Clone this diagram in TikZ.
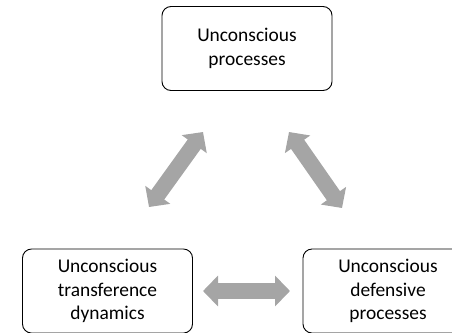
\documentclass[tikz,border=0pt]{standalone}
\usepackage{fontspec}
\setmainfont{Carlito}
\usetikzlibrary{arrows.meta}
\definecolor{arrowgray}{HTML}{A5A5A5}
\tikzset{
  procbox/.style={draw=black, line width=0.9bp, rounded corners=9bp, fill=white,
    minimum width=170bp, minimum height=84bp, align=center, inner sep=0pt,
    font=\fontsize{19.5}{23.5}\selectfont},
  linkarrow/.style={draw=arrowgray, line width=16bp,
    {Triangle[width=30bp,length=15bp]}-{Triangle[width=30bp,length=15bp]}}
}
\begin{document}
\begin{tikzpicture}[x=1bp, y=-1bp]
  \useasboundingbox (0,0) rectangle (452,332);
  \clip (0,0) rectangle (452,332);
  % process boxes
  \node[procbox] (up) at (247,48.5) {Unconscious\\processes};
  \node[procbox] (td) at (107.5,291) {Unconscious\\transference\\dynamics};
  \node[procbox] (dp) at (388,291) {Unconscious\\defensive\\processes};
  % ends of the two-way arrows
  \coordinate (a1) at (203,132);
  \coordinate (a2) at (149,207);
  \coordinate (b1) at (289,132);
  \coordinate (b2) at (342,208);
  \coordinate (c1) at (203,291);
  \coordinate (c2) at (290,291);
  \draw[linkarrow] (a1) -- (a2);
  \draw[linkarrow] (b1) -- (b2);
  \draw[linkarrow] (c1) -- (c2);
\end{tikzpicture}
\end{document}
